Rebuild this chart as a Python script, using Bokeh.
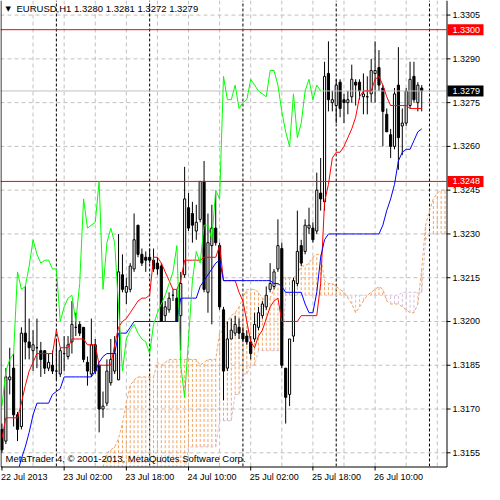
import numpy as np
from bokeh.plotting import figure
from bokeh.models import Range1d
from bokeh.core.properties import value
from bokeh.embed import file_html
from bokeh.resources import INLINE

# ---------------- data (EURUSD H1, 22 Jul 2013 10:00 .. 26 Jul 2013 22:00) ----------------
opens = [1.3163, 1.3159, 1.3180, 1.3184, 1.3168, 1.3164, 1.3196, 1.3193, 1.3190, 1.3191,
         1.3190, 1.3190, 1.3184, 1.3185, 1.3183, 1.3182, 1.3189, 1.3188, 1.3193, 1.3198,
         1.3199, 1.3198, 1.3186, 1.3182, 1.3192, 1.3185, 1.3170, 1.3172, 1.3179, 1.3183,
         1.3180, 1.3216, 1.3210, 1.3211, 1.3218, 1.3233, 1.3223, 1.3222, 1.3222, 1.3221,
         1.3220, 1.3219, 1.3202, 1.3204, 1.3209, 1.3208, 1.3202, 1.3216, 1.3239, 1.3237,
         1.3231, 1.3235, 1.3248, 1.3210, 1.3226, 1.3232, 1.3226, 1.3204, 1.3184, 1.3194,
         1.3196, 1.3198, 1.3196, 1.3195, 1.3193, 1.3194, 1.3198, 1.3202, 1.3205, 1.3211,
         1.3212, 1.3218, 1.3225, 1.3184, 1.3175, 1.3195, 1.3213, 1.3226, 1.3224, 1.3232,
         1.3232, 1.3231, 1.3244, 1.3241, 1.3285, 1.3275, 1.3274, 1.3282, 1.3276, 1.3275,
         1.3277, 1.3282, 1.3282, 1.3277, 1.3277, 1.3278, 1.3285, 1.3287, 1.3280, 1.3271,
         1.3264, 1.3260, 1.3281, 1.3267, 1.3268, 1.3274, 1.3284, 1.3275, 1.3280]
highs = [1.3165, 1.3184, 1.3191, 1.3189, 1.3169, 1.3198, 1.3212, 1.3201, 1.3197, 1.3201,
         1.3193, 1.3190, 1.3189, 1.3190, 1.3194, 1.3191, 1.3195, 1.3195, 1.3207, 1.3203,
         1.3200, 1.3198, 1.3188, 1.3201, 1.3194, 1.3185, 1.3176, 1.3187, 1.3194, 1.3195,
         1.3230, 1.3223, 1.3215, 1.3220, 1.3237, 1.3233, 1.3225, 1.3224, 1.3225, 1.3225,
         1.3222, 1.3220, 1.3207, 1.3210, 1.3211, 1.3211, 1.3217, 1.3253, 1.3244, 1.3241,
         1.3240, 1.3248, 1.3255, 1.3237, 1.3240, 1.3244, 1.3227, 1.3205, 1.3200, 1.3201,
         1.3202, 1.3201, 1.3198, 1.3197, 1.3195, 1.3203, 1.3205, 1.3207, 1.3212, 1.3220,
         1.3218, 1.3235, 1.3227, 1.3184, 1.3194, 1.3215, 1.3238, 1.3228, 1.3235, 1.3239,
         1.3234, 1.3251, 1.3256, 1.3289, 1.3296, 1.3279, 1.3283, 1.3283, 1.3278, 1.3279,
         1.3288, 1.3283, 1.3283, 1.3285, 1.3284, 1.3290, 1.3296, 1.3293, 1.3281, 1.3273,
         1.3266, 1.3280, 1.3294, 1.3273, 1.3280, 1.3289, 1.3289, 1.3282, 1.3281]
lows = [1.3155, 1.3158, 1.3175, 1.3164, 1.3159, 1.3163, 1.3187, 1.3187, 1.3183, 1.3184,
        1.3181, 1.3182, 1.3183, 1.3182, 1.3180, 1.3181, 1.3183, 1.3187, 1.3189, 1.3195,
        1.3195, 1.3186, 1.3178, 1.3181, 1.3182, 1.3162, 1.3167, 1.3171, 1.3178, 1.3182,
        1.3180, 1.3210, 1.3206, 1.3210, 1.3217, 1.3222, 1.3219, 1.3217, 1.3220, 1.3217,
        1.3216, 1.3200, 1.3200, 1.3203, 1.3207, 1.3200, 1.3190, 1.3215, 1.3231, 1.3227,
        1.3228, 1.3234, 1.3210, 1.3203, 1.3199, 1.3226, 1.3204, 1.3173, 1.3183, 1.3194,
        1.3195, 1.3194, 1.3193, 1.3192, 1.3187, 1.3193, 1.3197, 1.3201, 1.3204, 1.3210,
        1.3211, 1.3217, 1.3184, 1.3165, 1.3171, 1.3193, 1.3212, 1.3219, 1.3223, 1.3230,
        1.3227, 1.3230, 1.3238, 1.3238, 1.3272, 1.3272, 1.3268, 1.3270, 1.3268, 1.3271,
        1.3275, 1.3274, 1.3276, 1.3271, 1.3271, 1.3275, 1.3275, 1.3279, 1.3260, 1.3265,
        1.3256, 1.3259, 1.3252, 1.3257, 1.3267, 1.3273, 1.3275, 1.3272, 1.3272]
closes = [1.3156, 1.3181, 1.3181, 1.3168, 1.3163, 1.3196, 1.3193, 1.3191, 1.3192, 1.3191,
          1.3187, 1.3184, 1.3186, 1.3183, 1.3183, 1.3190, 1.3189, 1.3192, 1.3199, 1.3198,
          1.3196, 1.3187, 1.3183, 1.3192, 1.3183, 1.3170, 1.3171, 1.3183, 1.3187, 1.3189,
          1.3217, 1.3211, 1.3212, 1.3219, 1.3228, 1.3223, 1.3220, 1.3221, 1.3221, 1.3218,
          1.3218, 1.3200, 1.3205, 1.3208, 1.3209, 1.3200, 1.3213, 1.3242, 1.3232, 1.3233,
          1.3234, 1.3248, 1.3211, 1.3227, 1.3232, 1.3227, 1.3205, 1.3183, 1.3194, 1.3197,
          1.3199, 1.3196, 1.3194, 1.3193, 1.3189, 1.3199, 1.3203, 1.3206, 1.3209, 1.3213,
          1.3217, 1.3226, 1.3185, 1.3174, 1.3194, 1.3214, 1.3224, 1.3220, 1.3233, 1.3233,
          1.3228, 1.3245, 1.3242, 1.3284, 1.3276, 1.3276, 1.3281, 1.3273, 1.3275, 1.3276,
          1.3283, 1.3281, 1.3279, 1.3278, 1.3277, 1.3286, 1.3286, 1.3281, 1.3272, 1.3265,
          1.3260, 1.3278, 1.3263, 1.3268, 1.3279, 1.3283, 1.3276, 1.3281, 1.3279]

# Ichimoku (9, 26, 52)
tenkan = [1.3160, 1.3167, 1.3167, 1.3167, 1.3167, 1.3172, 1.3178, 1.3183, 1.3186, 1.3189,
          1.3189, 1.3189, 1.3189, 1.3189, 1.3197, 1.3191, 1.3191, 1.3191, 1.3194, 1.3194,
          1.3194, 1.3194, 1.3192, 1.3192, 1.3192, 1.3185, 1.3185, 1.3185, 1.3185, 1.3192,
          1.3198, 1.3200, 1.3201, 1.3203, 1.3205, 1.3207, 1.3208, 1.3208, 1.3209, 1.3222,
          1.3222, 1.3220, 1.3217, 1.3214, 1.3211, 1.3211, 1.3214, 1.3221, 1.3221, 1.3221,
          1.3221, 1.3221, 1.3222, 1.3222, 1.3222, 1.3222, 1.3226, 1.3214, 1.3214, 1.3214,
          1.3214, 1.3210, 1.3207, 1.3200, 1.3193, 1.3191, 1.3195, 1.3197, 1.3201, 1.3205,
          1.3207, 1.3208, 1.3200, 1.3200, 1.3200, 1.3200, 1.3200, 1.3202, 1.3202, 1.3202,
          1.3202, 1.3202, 1.3213, 1.3241, 1.3247, 1.3256, 1.3258, 1.3258, 1.3260, 1.3263,
          1.3266, 1.3270, 1.3277, 1.3279, 1.3279, 1.3279, 1.3283, 1.3284, 1.3281, 1.3277,
          1.3274, 1.3274, 1.3274, 1.3274, 1.3274, 1.3273, 1.3273, 1.3273, 1.3273]
kijun = [1.3148, 1.3148, 1.3148, 1.3148, 1.3148, 1.3153, 1.3157, 1.3162, 1.3168, 1.3172,
         1.3172, 1.3172, 1.3172, 1.3175, 1.3176, 1.3177, 1.3181, 1.3181, 1.3181, 1.3181,
         1.3181, 1.3181, 1.3181, 1.3181, 1.3183, 1.3186, 1.3188, 1.3189, 1.3189, 1.3189,
         1.3196, 1.3196, 1.3196, 1.3198, 1.3200, 1.3200, 1.3200, 1.3200, 1.3200, 1.3200,
         1.3200, 1.3200, 1.3200, 1.3200, 1.3200, 1.3200, 1.3208, 1.3208, 1.3208, 1.3208,
         1.3208, 1.3212, 1.3214, 1.3216, 1.3218, 1.3220, 1.3221, 1.3214, 1.3214, 1.3214,
         1.3214, 1.3214, 1.3214, 1.3214, 1.3214, 1.3214, 1.3214, 1.3214, 1.3214, 1.3214,
         1.3213, 1.3213, 1.3212, 1.3210, 1.3210, 1.3210, 1.3210, 1.3210, 1.3206, 1.3203,
         1.3203, 1.3210, 1.3222, 1.3228, 1.3230, 1.3230, 1.3230, 1.3230, 1.3230, 1.3230,
         1.3230, 1.3230, 1.3230, 1.3230, 1.3230, 1.3230, 1.3230, 1.3230, 1.3233, 1.3238,
         1.3242, 1.3247, 1.3255, 1.3258, 1.3259, 1.3259, 1.3262, 1.3265, 1.3266]
cloud_start = 26   # first bar index of the senkou arrays (they run 26 bars ahead)
span_a = [1.3150, 1.3155, 1.3156, 1.3157, 1.3160, 1.3165, 1.3172, 1.3178, 1.3180, 1.3181,
          1.3181, 1.3181, 1.3181, 1.3181, 1.3186, 1.3185, 1.3186, 1.3187, 1.3187, 1.3187,
          1.3187, 1.3187, 1.3187, 1.3187, 1.3187, 1.3185, 1.3186, 1.3187, 1.3187, 1.3187,
          1.3196, 1.3197, 1.3200, 1.3202, 1.3203, 1.3205, 1.3208, 1.3211, 1.3211, 1.3211,
          1.3210, 1.3208, 1.3207, 1.3208, 1.3211, 1.3213, 1.3215, 1.3215, 1.3215, 1.3215,
          1.3216, 1.3219, 1.3219, 1.3220, 1.3222, 1.3223, 1.3223, 1.3214, 1.3213, 1.3213,
          1.3212, 1.3211, 1.3210, 1.3208, 1.3206, 1.3203, 1.3205, 1.3207, 1.3209, 1.3210,
          1.3211, 1.3212, 1.3211, 1.3207, 1.3206, 1.3206, 1.3206, 1.3205, 1.3204, 1.3203,
          1.3203, 1.3206, 1.3218, 1.3233, 1.3238, 1.3242, 1.3244, 1.3245, 1.3245]
span_b = [1.3148, 1.3148, 1.3148, 1.3148, 1.3148, 1.3148, 1.3148, 1.3148, 1.3148, 1.3148,
          1.3148, 1.3148, 1.3148, 1.3148, 1.3148, 1.3148, 1.3148, 1.3148, 1.3148, 1.3148,
          1.3148, 1.3148, 1.3157, 1.3157, 1.3157, 1.3157, 1.3157, 1.3157, 1.3157, 1.3157,
          1.3166, 1.3166, 1.3166, 1.3166, 1.3175, 1.3175, 1.3182, 1.3182, 1.3185, 1.3185,
          1.3190, 1.3190, 1.3190, 1.3190, 1.3190, 1.3190, 1.3190, 1.3209, 1.3209, 1.3209,
          1.3209, 1.3209, 1.3209, 1.3209, 1.3209, 1.3209, 1.3209, 1.3209, 1.3209, 1.3209,
          1.3209, 1.3209, 1.3209, 1.3209, 1.3209, 1.3209, 1.3209, 1.3209, 1.3209, 1.3209,
          1.3209, 1.3209, 1.3209, 1.3209, 1.3209, 1.3209, 1.3209, 1.3210, 1.3210, 1.3210,
          1.3210, 1.3210, 1.3210, 1.3228, 1.3230, 1.3230, 1.3230, 1.3230, 1.3230]
chikou_shift = 26

time_ticks = [0, 16, 32, 48, 64, 80, 96]
time_labels = ["22 Jul 2013", "23 Jul 02:00", "23 Jul 18:00", "24 Jul 10:00",
               "25 Jul 02:00", "25 Jul 18:00", "26 Jul 10:00"]
grid_bars = [8, 16, 24, 32, 40, 48, 56, 64, 72, 80, 88, 96, 104, 112]
day_starts = [14, 38, 62, 86, 110]
price_ticks = [1.3155, 1.3170, 1.3185, 1.3200, 1.3215, 1.3230, 1.3245, 1.3260, 1.3275, 1.3290, 1.3305]
marked_levels = [1.3300, 1.3248]
bid_price = 1.3279
symbol_title = "EURUSD,H1  1.3280 1.3281 1.3272 1.3279"
copyright_text = "MetaTrader 4, \u00a9 2001-2013, MetaQuotes Software Corp."

# ---------------- layout (canvas pixels -> data) ----------------
CW, CH = 484, 484          # canvas
CR, CB = 446, 466          # right / bottom edge of the chart area (px)
xb0, xb1 = -0.375, 114.375 # bar range shown in the chart area
yb0, yb1 = 1.31503, 1.33100
kx = CR / (xb1 - xb0)
ky = CB / (yb1 - yb0)
XL, XR = xb0, xb0 + CW / kx
YT, YB = yb1, yb1 - CH / ky
FONT = "Liberation Sans"

def X(px):
    return XL + px / kx

def Y(py):
    return YT - py / ky

p = figure(width=CW, height=CH, x_range=Range1d(XL, XR), y_range=Range1d(YB, YT),
           output_backend="svg", toolbar_location=None, min_border=0,
           x_axis_type=None, y_axis_type=None, outline_line_color=None,
           background_fill_color="white", border_fill_color="white")

# grid and day separators
p.segment(x0=grid_bars, x1=grid_bars, y0=yb0, y1=yb1, line_color="#C0C0C0",
          line_dash="4 3", line_width=1)
p.segment(x0=xb0, x1=xb1, y0=price_ticks, y1=price_ticks, line_color="#C0C0C0",
          line_dash="4 3", line_width=1)
p.segment(x0=day_starts, x1=day_starts, y0=yb0, y1=yb1, line_color="black",
          line_dash="3 2", line_width=1)

# cloud (kumo)
ca = np.array(span_a)
cb = np.array(span_b)
cx = np.arange(cloud_start, cloud_start + len(span_a))
p.segment(x0=cx, x1=cx, y0=np.minimum(ca, cb), y1=np.maximum(ca, cb),
          line_color=list(np.where(ca >= cb, "#F4A460", "#D8BFD8")),
          line_dash="3 2", line_width=1)
p.line(cx, ca, line_color="#F4A460", line_dash="3 2", line_width=1)
p.line(cx, cb, line_color="#D8BFD8", line_dash="3 2", line_width=1)

# candles
o = np.array(opens); h = np.array(highs); l = np.array(lows); c = np.array(closes)
bx = np.arange(len(o))
p.segment(x0=bx, y0=h, x1=bx, y1=l, line_color="black", line_width=1)
up = c >= o
dn = ~up
p.vbar(x=bx[up], width=0.55, top=c[up], bottom=o[up], fill_color="white",
       line_color="black", line_width=1)
p.vbar(x=bx[dn], width=0.55, top=o[dn], bottom=c[dn], fill_color="black",
       line_color="black", line_width=1)

# horizontal price lines
p.segment(x0=xb0, x1=xb1, y0=bid_price, y1=bid_price, line_color="#C0C0C0", line_width=1)
p.segment(x0=xb0, x1=xb1, y0=marked_levels, y1=marked_levels, line_color="red", line_width=1)

# ichimoku lines
p.line(bx, tenkan, line_color="red", line_width=1)
p.line(bx, kijun, line_color="blue", line_width=1)
p.line(bx[:len(c) - chikou_shift], c[chikou_shift:], line_color="#00FF00", line_width=1)

# mask outside the chart area (emulates clipping)
p.quad(left=XL, right=XR, bottom=YB, top=yb0, fill_color="white", line_color=None)
p.quad(left=xb1, right=XR, bottom=YB, top=YT, fill_color="white", line_color=None)

# chart frame
p.segment(x0=[X(0.5), X(0.5), X(CR + 0.5)], x1=[X(0.5), X(CR + 0.5), X(CR + 0.5)],
          y0=[yb1, Y(CB + 0.5), Y(CB + 0.5)], y1=[Y(CB + 0.5), Y(CB + 0.5), yb1],
          line_color="black", line_width=1)

# price scale
p.segment(x0=X(CR), x1=X(CR + 4), y0=price_ticks, y1=price_ticks, line_color="black", line_width=1)
p.text(x=X(CR + 6), y=price_ticks, text=["%.4f" % t for t in price_ticks],
       text_font=value(FONT), text_font_size="9px", text_color="black",
       text_baseline="middle", text_align="left")
box_levels = marked_levels + [bid_price]
box_colors = ["red", "red", "black"]
p.quad(left=X(CR + 1), right=X(CR + 37), bottom=[v - 5.5 / ky for v in box_levels],
       top=[v + 5.5 / ky for v in box_levels], fill_color=box_colors, line_color=None)
p.text(x=X(CR + 6), y=box_levels, text=["%.4f" % v for v in box_levels],
       text_font=value(FONT), text_font_size="9px", text_color="white",
       text_baseline="middle", text_align="left")

# time scale
p.segment(x0=time_ticks, x1=time_ticks, y0=Y(CB), y1=Y(CB + 4), line_color="black", line_width=1)
p.text(x=[t - 1 / kx for t in time_ticks], y=Y(CB + 5), text=time_labels,
       text_font=value(FONT), text_font_size="9px", text_color="black",
       text_baseline="top", text_align="left")

# title and copyright
p.text(x=[X(5)], y=[Y(8)], text=["\u25bc"], text_font=value("DejaVu Sans"),
       text_font_size="7px", text_color="black", text_baseline="middle", text_align="left")
p.text(x=[X(16)], y=[Y(8)], text=[symbol_title], text_font=value(FONT),
       text_font_size="9.5px", text_color="black", text_baseline="middle", text_align="left")
p.text(x=[X(5)], y=[Y(CB - 8.5)], text=[copyright_text], text_font=value(FONT),
       text_font_size="9.5px", text_color="black", text_baseline="middle", text_align="left")

open("out.html", "w").write(file_html(p, INLINE))
